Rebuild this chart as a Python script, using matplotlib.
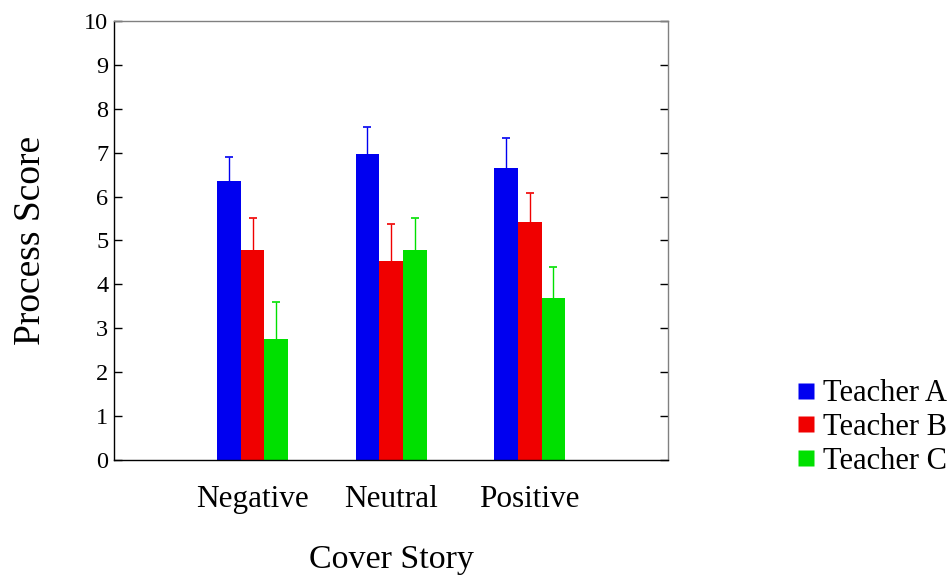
import numpy as np
import matplotlib
matplotlib.use("Agg")
import matplotlib.pyplot as plt
from matplotlib.lines import Line2D

plt.rcParams['font.family'] = ['Liberation Serif', 'DejaVu Serif']

# data
stories = ["Negative", "Neutral", "Positive"]
teachers = ["Teacher A", "Teacher B", "Teacher C"]
colors = ["#0000f0", "#f00000", "#00e000"]
means_a = [6.36, 6.97, 6.65]
means_b = [4.78, 4.53, 5.42]
means_c = [2.75, 4.78, 3.69]
err_a = [0.54, 0.62, 0.68]
err_b = [0.73, 0.85, 0.66]
err_c = [0.84, 0.73, 0.70]

means = [means_a, means_b, means_c]
errs = [err_a, err_b, err_c]

fig = plt.figure(figsize=(9.53, 5.77), dpi=100)
ax = fig.add_axes([0.1196, 0.2028, 0.5817, 0.7608])

x = np.arange(len(stories))
w = 0.171
for i, (m, e, c) in enumerate(zip(means, errs, colors)):
    pos = x + (i - 1) * w
    ax.bar(pos, m, width=w, color=c, edgecolor='none', zorder=2)
    _, caps, _ = ax.errorbar(pos, m, yerr=[np.zeros(len(e)), e], fmt='none',
                             ecolor=c, elinewidth=1, capsize=3.2,
                             capthick=1.2, zorder=1)
    caps[0].set_visible(False)  # only the upper cap

ax.set_xlim(-1, 3)
ax.set_ylim(0, 10)
ax.set_yticks(range(0, 11))
ax.set_xticks(x)
ax.set_xticklabels(stories, fontsize=22.5)
ax.tick_params(axis='x', length=0, pad=18)
ax.tick_params(axis='y', direction='in', length=6, width=1, right=True,
               labelsize=17.5, pad=4, color='black')
for s in ['top', 'right']:
    ax.spines[s].set_color('#808080')
for s in ['left', 'bottom']:
    ax.spines[s].set_color('black')
for s in ax.spines.values():
    s.set_linewidth(1)

ax.set_xlabel("Cover Story", fontsize=24.5, labelpad=22)
ax.set_ylabel("Process Score", fontsize=27, labelpad=26)

handles = [Line2D([], [], ls='none', marker='s', markersize=11,
                  markerfacecolor=c, markeredgecolor='none') for c in colors]
fig.legend(handles, teachers, loc='center left', bbox_to_anchor=(0.838, 0.259),
           frameon=False, fontsize=22, handlelength=0.5, handletextpad=0.3,
           labelspacing=0.15, borderaxespad=0, borderpad=0)

fig.savefig("out.png", dpi=100)
